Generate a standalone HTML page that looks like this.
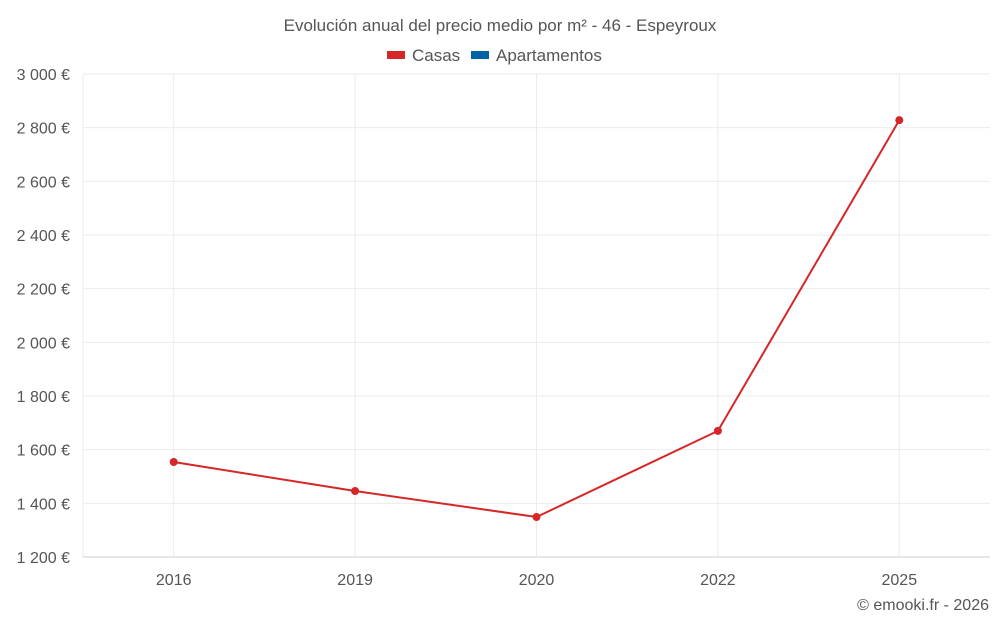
<!DOCTYPE html>
<html><head><meta charset="utf-8"><style>
body{margin:0;background:#fff;font-family:"Liberation Sans",sans-serif;}
svg text{font-family:"Liberation Sans",sans-serif;fill:#555;}
</style></head><body>
<svg id="chart" width="1000" height="625">
<text x="500" y="31" text-anchor="middle" font-size="17">Evolución anual del precio medio por m² - 46 - Espeyroux</text>
<g>
<g><rect x="387" y="51" width="18" height="8" fill="#d62728"/><text x="412" y="61" font-size="17">Casas</text></g>
<g><rect x="471" y="51" width="18" height="8" fill="#0063a6"/><text x="496" y="61" font-size="17">Apartamentos</text></g>
</g>
<g id="grid"></g><g id="axes"></g><g id="series"></g>
<text x="989" y="610" text-anchor="end" font-size="16">© emooki.fr - 2026</text>
</svg>
<script>
const categories=["2016","2019","2020","2022","2025"];
const casas=[1554,1446,1349,1670,2828];
const yTicks=[1200,1400,1600,1800,2000,2200,2400,2600,2800,3000];
const NS="http://www.w3.org/2000/svg";
const L=83,R=990,T=74,B=557,ymin=1200,ymax=3000;
const bw=(R-L)/categories.length;
const x=i=>L+bw*(i+0.5);
const y=v=>B-(v-ymin)/(ymax-ymin)*(B-T);
function mk(tag,attrs,parent){const e=document.createElementNS(NS,tag);for(const k in attrs)e.setAttribute(k,attrs[k]);document.getElementById(parent).appendChild(e);return e;}
yTicks.forEach(v=>{
 const l=mk('line',{x1:L,x2:R,y1:y(v),y2:y(v),stroke:v===ymin?'#ccc':'#ebebeb'},'grid');
 
 
 const t=mk('text',{x:70,y:y(v)+6,'text-anchor':'end','font-size':16},'axes');
 t.textContent=v.toLocaleString('en').replace(',',' ')+' €';
 
 
});
categories.forEach((c,i)=>{
 const l=mk('line',{x1:x(i),x2:x(i),y1:T,y2:B,stroke:'#ebebeb'},'grid');
 
 
 const t=mk('text',{x:x(i),y:585,'text-anchor':'middle','font-size':16},'axes');
 t.textContent=c;
 
 
});
const vl=mk('line',{x1:L,x2:L,y1:T,y2:B,stroke:'#ebebeb'},'grid');


const p=mk('polyline',{points:casas.map((v,i)=>x(i)+','+y(v)).join(' '),fill:'none',stroke:'#d62728','stroke-width':2},'series');


casas.forEach((v,i)=>{
 const c=mk('circle',{cx:x(i),cy:y(v),r:4,fill:'#d62728'},'series');
 
 
});
</script>
</body></html>
